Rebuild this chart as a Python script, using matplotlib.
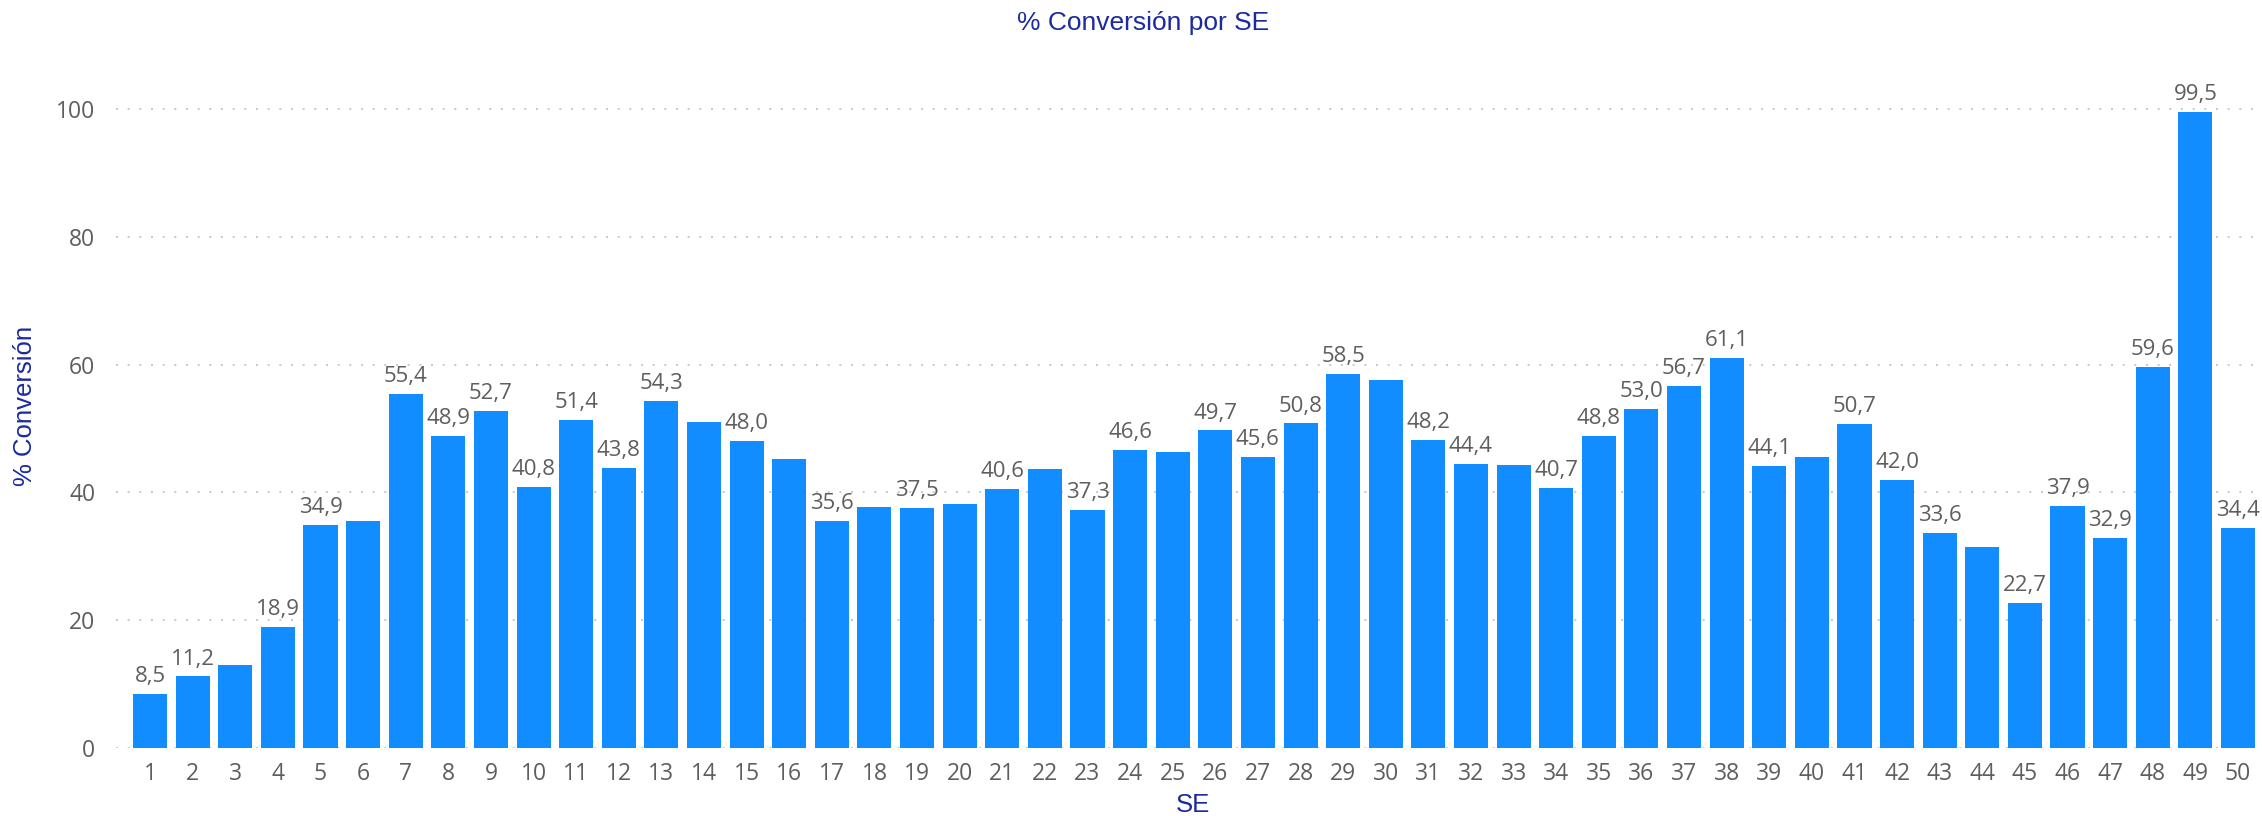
import numpy as np
import matplotlib
matplotlib.use('Agg')
import matplotlib.pyplot as plt

# semana epidemiologica (SE) y % de conversion
se = list(range(1, 51))
conversion = [8.5, 11.2, 13.0, 18.9, 34.9, 35.6, 55.4, 48.9, 52.7, 40.8,
              51.4, 43.8, 54.3, 51.1, 48.0, 45.2, 35.6, 37.8, 37.5, 38.2,
              40.6, 43.6, 37.3, 46.6, 46.4, 49.7, 45.6, 50.8, 58.5, 57.6,
              48.2, 44.4, 44.3, 40.7, 48.8, 53.0, 56.7, 61.1, 44.1, 45.5,
              50.7, 42.0, 33.6, 31.4, 22.7, 37.9, 32.9, 59.6, 99.5, 34.4]
# bars whose data label is hidden in the original
hidden_labels = [3, 6, 14, 16, 18, 20, 22, 25, 30, 33, 40, 44]
y_ticks = [0, 20, 40, 60, 80, 100]

bar_color = '#118DFF'
text_gray = '#605E5C'
title_blue = '#1B2A9E'
label_font = ['Open Sans', 'DejaVu Sans']
title_font = ['Liberation Sans', 'DejaVu Sans']

fig = plt.figure(figsize=(22.62, 8.16), dpi=100)
ax = fig.add_axes([116 / 2262, 68 / 816, (2255 - 116) / 2262, 690 / 816])

ax.bar(se, conversion, width=0.8, color=bar_color, zorder=2)

for x, v in zip(se, conversion):
    if x in hidden_labels:
        continue
    ax.annotate(f"{v:.1f}".replace('.', ','), (x, v), xytext=(0, 5),
                textcoords='offset points', ha='center', va='bottom',
                fontsize=16, color=text_gray, family=label_font)

ax.set_xlim(0.2, 50.4)
ax.set_ylim(0, 108)
ax.set_yticks(y_ticks)
ax.set_xticks(se)
ax.set_xticklabels([str(s) for s in se])

for s in ax.spines.values():
    s.set_visible(False)

for t in y_ticks:
    ax.axhline(t, color='#C8C8C8', lw=1.4, linestyle=(0, (1, 5)),
               dash_capstyle='butt', zorder=1)

ax.tick_params(axis='both', length=0, labelsize=16.5, labelcolor=text_gray)
ax.tick_params(axis='y', pad=15)
ax.tick_params(axis='x', pad=10)
for lbl in ax.get_xticklabels() + ax.get_yticklabels():
    lbl.set_family(label_font)

ax.set_ylabel('% Conversión', fontsize=18.5, color=title_blue, family=title_font)
ax.yaxis.set_label_coords(-0.0369, 0.496)
ax.set_xlabel('SE', fontsize=18.5, color=title_blue, family=title_font, va='center')
ax.xaxis.set_label_coords(0.5035, -0.083)

fig.text(1143 / 2262, 1 - 23 / 816, '% Conversión por SE', ha='center', va='center',
         fontsize=19, color=title_blue, family=title_font)

fig.savefig('out.png', dpi=100, facecolor='white')
